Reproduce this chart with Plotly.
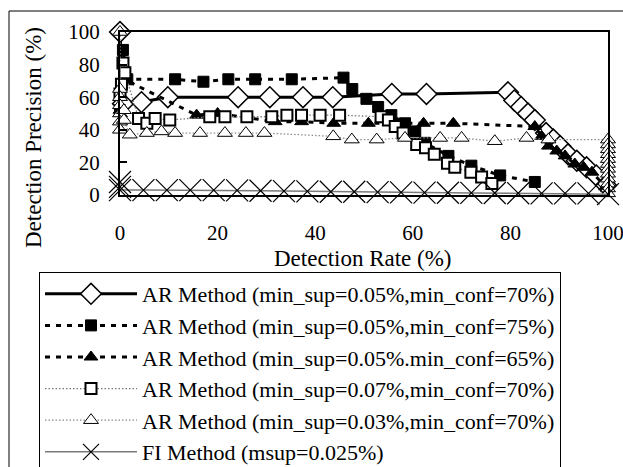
import plotly.graph_objects as go

# ---------------- data ----------------
x_ticks = [0, 20, 40, 60, 80, 100]
y_ticks = [0, 20, 40, 60, 80, 100]

ar_a_name = "AR Method (min_sup=0.05%,min_conf=70%)"
ar_a_x = [0, 0.6, 4.4, 9.8, 24.2, 30.7, 37.5, 43.6, 55.7, 62.8, 79.5, 80.8, 82.2, 83.6,
          85.0, 87.3, 88.8, 90.2, 91.8, 93.6, 95.6, 97.6, 99.6]
ar_a_y = [100, 56, 57, 60, 60, 60, 60, 60, 62, 62, 63, 58, 54, 50,
          46, 38, 34, 30, 25, 21, 17, 12, 6]

ar_b_name = "AR Method (min_sup=0.05%,min_conf=75%)"
ar_b_x = [0, 0.6, 1.5, 11.3, 17.1, 22.2, 27.7, 35.2, 45.8, 47.6, 50.5, 52.9, 55.6,
          58.4, 60.5, 62.5, 67.3, 72.0, 77.9, 85.0]
ar_b_y = [52, 89, 71, 71, 69.5, 71, 71, 71, 72, 65, 59, 54, 49,
          44, 39, 32, 24, 18, 12, 8]

ar_c_name = "AR Method (min_sup=0.05%.min_conf=65%)"
ar_c_x = [0, 1.5, 15.7, 20.0, 31.8, 37.2, 43.8, 50.9, 62.2, 68.3, 85.0, 86.4, 87.8,
          89.5, 91.2, 93.2, 95.0, 96.7, 99.5]
ar_c_y = [52, 70, 49, 50, 45, 45, 44, 44, 44, 44, 42, 36, 30,
          27, 24, 19, 17, 14, 5]

ar_d_name = "AR Method (min_sup=0.07%,min_conf=70%)"
ar_d_x = [0, 0.3, 0.6, 1.0, 3.8, 5.5, 7.2, 10.2, 18.4, 21.5, 26.0, 31.1, 34.2, 37.2,
          41.0, 45.0, 53.5, 55.0, 56.4, 58.0, 60.8, 62.6, 64.4, 67.1, 68.6, 71.9,
          74.1, 76.2]
ar_d_y = [62, 68, 81, 75, 47, 44, 47, 46, 48, 48, 48, 48, 49, 49,
          49, 49, 48, 46, 42, 38, 31, 29, 25, 19.5, 17, 14,
          11, 7]

ar_e_name = "AR Method (min_sup=0.03%,min_conf=70%)"
ar_e_x = [0, 0, 0, 0, 0, 0, 0, 0.8, 0.8, 2.0, 5.5, 8.5, 11.3, 16.4, 21.5, 25.8, 29.6,
          43.7, 47.5, 52.6, 58.4, 65.6, 70.0, 76.8, 83.3, 87.8,
          100, 100, 100, 100, 100, 100, 100, 100, 100, 100, 100, 100]
ar_e_y = [100, 65, 60, 55, 50, 45, 40, 52, 46, 37, 38, 39, 38, 38, 38, 38, 38,
          36, 34, 34, 35, 35, 35, 33, 35, 34,
          34, 31, 28, 25, 22, 19, 16, 13, 10, 7, 4, 1]

fi_name = "FI Method (msup=0.025%)"
fi_x = [0, 0, 0, 4.8, 9.6, 14.4, 19.2, 24.0, 28.8, 33.6, 38.4, 43.2, 48.0, 52.8,
        57.6, 62.4, 67.2, 72.0, 76.8, 81.6, 86.4, 91.2, 96.0, 100]
fi_y = [8, 5, 3, 3, 3, 3, 3, 2.8, 2.6, 2.4, 2.2, 2, 2, 1.8,
        1.6, 1.5, 1.4, 1.3, 1.2, 1.1, 1, 1, 1, 0.5]

# ---------------- figure ----------------
FONT = "Liberation Serif"

fig = go.Figure()

fig.add_trace(go.Scatter(
    x=ar_a_x, y=ar_a_y, mode="lines+markers", name=ar_a_name, cliponaxis=False,
    line=dict(color="black", width=3),
    marker=dict(symbol="diamond", size=16, color="white",
                line=dict(color="black", width=1.5))))

fig.add_trace(go.Scatter(
    x=ar_b_x, y=ar_b_y, mode="lines+markers", name=ar_b_name, cliponaxis=False,
    line=dict(color="black", width=3, dash="5px,6px"),
    marker=dict(symbol="square", size=11, color="black",
                line=dict(color="black", width=1))))

fig.add_trace(go.Scatter(
    x=ar_c_x, y=ar_c_y, mode="lines+markers", name=ar_c_name, cliponaxis=False,
    line=dict(color="black", width=3, dash="5px,6px"),
    marker=dict(symbol="triangle-up", size=12, color="black",
                line=dict(color="black", width=1))))

fig.add_trace(go.Scatter(
    x=ar_d_x, y=ar_d_y, mode="lines+markers", name=ar_d_name, cliponaxis=False,
    line=dict(color="#7a7a7a", width=1.3, dash="1.5px,2px"),
    marker=dict(symbol="square", size=11, color="white",
                line=dict(color="black", width=2))))

fig.add_trace(go.Scatter(
    x=ar_e_x, y=ar_e_y, mode="lines+markers", name=ar_e_name, cliponaxis=False,
    line=dict(color="#8a8a8a", width=1.3, dash="1.5px,2px"),
    marker=dict(symbol="triangle-up", size=13, color="white",
                line=dict(color="black", width=1))))

fig.add_trace(go.Scatter(
    x=fi_x, y=fi_y, mode="lines+markers", name=fi_name, cliponaxis=False,
    line=dict(color="#7a7a7a", width=1.5),
    marker=dict(symbol="x-thin-open", size=22, color="black",
                line=dict(color="black", width=1.2))))

# plot area: x 120..608 px, y 32..195 px
L, R, T, B = 120, 608, 32, 195
W, H = 623, 467


def px_x(p):
    return (p - L) / (R - L)


def px_y(p):
    return (B - p) / (B - T)


fig.update_layout(
    width=W, height=H,
    margin=dict(l=L, r=W - R, t=T, b=H - B, autoexpand=False),
    paper_bgcolor="white", plot_bgcolor="white",
    font=dict(family=FONT, color="black", size=21),
    showlegend=True,
    legend=dict(
        x=px_x(39), y=px_y(272), xanchor="left", yanchor="top",
        bordercolor="black", borderwidth=1, bgcolor="white",
        font=dict(family=FONT, size=22, color="black"),
        itemwidth=92, itemsizing="trace", traceorder="normal",
    ),
    xaxis=dict(
        range=[0, 100], tickvals=x_ticks, ticktext=[str(v) for v in x_ticks],
        showgrid=False, zeroline=False, showline=True, linecolor="black",
        linewidth=2, mirror=True, ticks="", ticklabelstandoff=18,
        ticklabeloverflow="allow",
        tickfont=dict(family=FONT, size=21),
    ),
    yaxis=dict(
        range=[0, 100], tickvals=y_ticks, ticktext=[str(v) for v in y_ticks],
        showgrid=False, zeroline=False, showline=True, linecolor="black",
        linewidth=2, mirror=True, ticks="inside", ticklen=7, tickwidth=1.5,
        tickcolor="black", ticklabelstandoff=14,
        tickfont=dict(family=FONT, size=21),
    ),
    annotations=[
        dict(text="Detection Rate (%)", xref="paper", yref="paper",
             x=px_x(363), y=px_y(258), xanchor="center", yanchor="middle",
             showarrow=False, font=dict(family=FONT, size=23)),
        dict(text="Detection Precision (%)", xref="paper", yref="paper",
             x=px_x(33), y=px_y(138), xanchor="center", yanchor="middle",
             textangle=-90, showarrow=False, font=dict(family=FONT, size=23)),
    ],
    shapes=[
        dict(type="rect", xref="paper", yref="paper", layer="below",
             x0=px_x(9), x1=px_x(640), y0=px_y(480), y1=px_y(11),
             line=dict(color="black", width=1), fillcolor="rgba(0,0,0,0)"),
    ],
)

fig.write_html(
    "out.html",
    config={"displayModeBar": False},
    post_script="document.body.style.margin='0';"
                "document.body.style.overflow='hidden';",
)
